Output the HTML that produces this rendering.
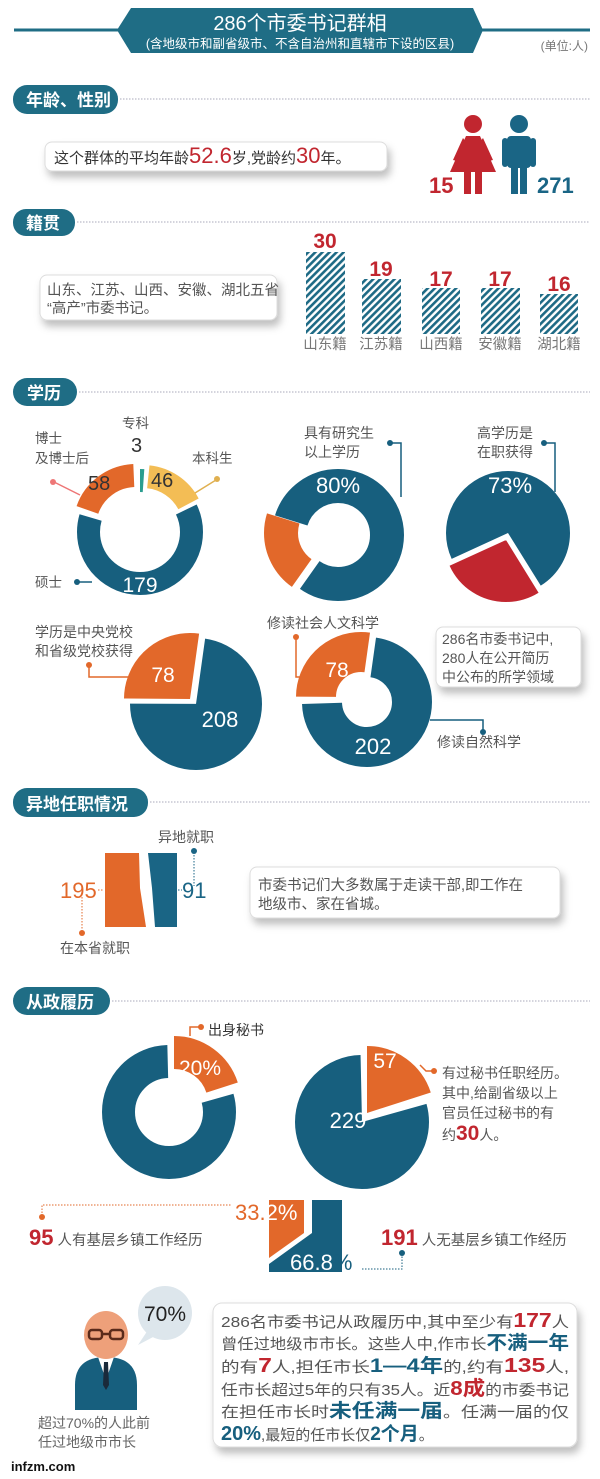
<!DOCTYPE html>
<html><head><meta charset="utf-8"><style>
html,body{margin:0;padding:0;background:#fff}
svg{display:block}
text{font-family:"Liberation Sans","Noto Sans CJK SC",sans-serif}
</style></head><body>
<svg width="600" height="1479" viewBox="0 0 600 1479" xmlns="http://www.w3.org/2000/svg">
<defs>
<pattern id="h" width="5" height="5" patternUnits="userSpaceOnUse" patternTransform="rotate(45)">
<rect width="5" height="5" fill="#fff"/><rect width="2.6" height="5" fill="#1e6a85"/></pattern>
<filter id="sh" x="-10%" y="-30%" width="120%" height="180%"><feDropShadow dx="3" dy="6" stdDeviation="4" flood-color="#000" flood-opacity="0.25"/></filter>
</defs>
<!-- header -->
<line x1="14" y1="30" x2="590" y2="30" stroke="#1f6d85" stroke-width="3"/>
<path d="M117 30 L131 8 L473 8 L483 30 L473 53 L131 53 Z" fill="#1f6d85"/>
<text x="300" y="30" fill="#fff" font-size="20" text-anchor="middle">286个市委书记群相</text>
<text x="300" y="48" fill="#fff" font-size="12.5" text-anchor="middle" font-family="Liberation Serif,Noto Serif CJK SC,serif">(含地级市和副省级市、不含自治州和直辖市下设的区县)</text>
<text x="588" y="50" fill="#777" font-size="12" text-anchor="end">(单位:人)</text>

<!-- section pills -->
<g fill="#1f6d85">
<rect x="13" y="85" width="105" height="29" rx="14"/>
<rect x="13" y="209" width="62" height="27" rx="13"/>
<rect x="13" y="378" width="64" height="28" rx="14"/>
<rect x="13" y="788" width="135" height="29" rx="14"/>
<rect x="13" y="987" width="97" height="28" rx="14"/>
</g>
<g stroke="#aab" stroke-width="1" stroke-dasharray="1.5 1.5">
<line x1="120" y1="99" x2="590" y2="99"/><line x1="77" y1="222" x2="590" y2="222"/>
<line x1="79" y1="392" x2="590" y2="392"/><line x1="150" y1="802" x2="590" y2="802"/>
<line x1="112" y1="1001" x2="590" y2="1001"/></g>
<g fill="#fff" font-size="17" font-weight="bold">
<text x="26" y="106">年龄、性别</text><text x="26" y="229">籍贯</text><text x="27" y="399">学历</text>
<text x="26" y="810">异地任职情况</text><text x="26" y="1008">从政履历</text></g>

<!-- age box -->
<rect x="45" y="142" width="342" height="29" rx="7" fill="#fff" stroke="#ddd" filter="url(#sh)"/>
<text x="54" y="163" font-size="15" fill="#333">这个群体的平均年龄<tspan fill="#c1262f" font-size="22">52.6</tspan>岁,党龄约<tspan fill="#c1262f" font-size="22">30</tspan>年。</text>
<!-- woman -->
<g fill="#c1262f"><circle cx="473" cy="124" r="9"/><path d="M466 136 L480 136 L496 172 L450 172 Z"/><rect x="464" y="170" width="7" height="24"/><rect x="475" y="170" width="7" height="24"/><path d="M463 138 l-10 22 4 1 9-19Z M483 138 l10 22 -4 1 -9-19Z"/></g>
<g fill="#1a6585"><circle cx="519" cy="124" r="9"/><rect x="507" y="136" width="24" height="32" rx="4"/><rect x="511" y="160" width="7" height="34"/><rect x="520" y="160" width="7" height="34"/><rect x="502" y="138" width="6" height="29" rx="3"/><rect x="530" y="138" width="6" height="29" rx="3"/></g>
<text x="429" y="193" font-size="22" font-weight="bold" fill="#c1262f">15</text>
<text x="537" y="193" font-size="22" font-weight="bold" fill="#1a6585">271</text>

<!-- jiguan -->
<rect x="40" y="275" width="237" height="45" rx="7" fill="#fff" stroke="#ddd" filter="url(#sh)"/>
<text x="47" y="295" font-size="14.5" fill="#555">山东、江苏、山西、安徽、湖北五省</text>
<text x="47" y="313" font-size="14.5" fill="#555">“高产”市委书记。</text>
<g fill="url(#h)"><rect x="306" y="252" width="39" height="82"/><rect x="362" y="279" width="39" height="55"/><rect x="422" y="288" width="38" height="46"/><rect x="481" y="288" width="39" height="46"/><rect x="540" y="294" width="38" height="40"/></g>
<g font-size="21" font-weight="bold" fill="#c1262f" text-anchor="middle">
<text x="325" y="248">30</text><text x="381" y="276">19</text><text x="441" y="286">17</text><text x="500" y="286">17</text><text x="559" y="291">16</text></g>
<g font-size="14.5" fill="#777" text-anchor="middle">
<text x="325" y="349">山东籍</text><text x="381" y="349">江苏籍</text><text x="441" y="349">山西籍</text><text x="500" y="349">安徽籍</text><text x="559" y="349">湖北籍</text></g>

<!-- donut1 -->
<g fill="none" stroke-width="23">
<circle cx="140" cy="532" r="51.5" stroke="#2a9d8f" stroke-dasharray="3.6 320" transform="rotate(-90 140 532)"/>
<circle cx="140" cy="532" r="51.5" stroke="#f3bd55" stroke-dasharray="50.3 273.3" stroke-dashoffset="-5.4" transform="translate(3,-4) rotate(-90 140 532)"/>
<circle cx="140" cy="532" r="51.5" stroke="#175f7e" stroke-dasharray="199.6 124" stroke-dashoffset="-57.5" transform="rotate(-90 140 532)"/>
<circle cx="140" cy="532" r="51.5" stroke="#e2682a" stroke-dasharray="61.1 262.5" stroke-dashoffset="-259.8" transform="translate(-4,-5) rotate(-90 140 532)"/>
</g>
<g font-size="13.5" fill="#555"><text x="122" y="428">专科</text><text x="35" y="443">博士</text><text x="35" y="463">及博士后</text><text x="192" y="463">本科生</text><text x="35" y="587">硕士</text></g>
<text x="131" y="452" font-size="20" fill="#333">3</text>
<text x="88" y="490" font-size="20" fill="#333">58</text><text x="151" y="487" font-size="20" fill="#333">46</text>
<text x="140" y="592" font-size="21" fill="#fff" text-anchor="middle">179</text>
<g stroke-width="1.5" fill="none"><path d="M54 482 L80 495" stroke="#e77"/><path d="M216 480 L195 493" stroke="#e0b050"/><path d="M77 582 L92 582" stroke="#175f7e"/></g>
<circle cx="53" cy="482" r="3" fill="#e77"/><circle cx="217" cy="479" r="3" fill="#e0b050"/><circle cx="77" cy="582" r="3" fill="#175f7e"/>

<!-- donut2 -->
<g fill="none" stroke-width="34">
<circle cx="338" cy="535" r="49" stroke="#e2682a" stroke-dasharray="61.6 246.3" stroke-dashoffset="-183.8" transform="translate(-8,-2) rotate(-90 338 535)"/>
<circle cx="338" cy="535" r="49" stroke="#175f7e" stroke-dasharray="246.3 61.6" stroke-dashoffset="-245.4" transform="rotate(-90 338 535)"/>
</g>
<text x="338" y="493" font-size="22" fill="#fff" text-anchor="middle">80%</text>
<text x="304" y="438" font-size="14" fill="#555">具有研究生</text><text x="304" y="457" font-size="14" fill="#555">以上学历</text>
<path d="M390 443 L401 443 L401 497" stroke="#175f7e" stroke-width="1.5" fill="none"/><circle cx="390" cy="443" r="3" fill="#175f7e"/>

<!-- pie3 -->
<g fill="none" stroke-width="62">
<circle cx="508" cy="533" r="31" stroke="#175f7e" stroke-dasharray="142.3 52.5" stroke-dashoffset="-132.5" transform="rotate(-90 508 533)"/>
<circle cx="508" cy="533" r="31" stroke="#c1262f" stroke-dasharray="52.5 142.3" stroke-dashoffset="-80.1" transform="translate(-2,7) rotate(-90 508 533)"/>
</g>
<text x="510" y="493" font-size="22" fill="#fff" text-anchor="middle">73%</text>
<text x="477" y="438" font-size="14" fill="#555">高学历是</text><text x="477" y="457" font-size="14" fill="#555">在职获得</text>
<path d="M544 443 L555 443 L555 492" stroke="#175f7e" stroke-width="1.5" fill="none"/><circle cx="544" cy="443" r="3" fill="#175f7e"/>

<!-- pie4 -->
<g fill="none" stroke-width="66">
<circle cx="196" cy="704" r="33" stroke="#175f7e" stroke-dasharray="150.9 56.4" stroke-dashoffset="-4.6" transform="rotate(-90 196 704)"/>
<circle cx="196" cy="704" r="33" stroke="#e2682a" stroke-dasharray="56.4 150.9" stroke-dashoffset="-155.5" transform="translate(-6,-5) rotate(-90 196 704)"/>
</g>
<text x="163" y="682" font-size="21" fill="#fff" text-anchor="middle">78</text>
<text x="220" y="727" font-size="22" fill="#fff" text-anchor="middle">208</text>
<text x="35" y="637" font-size="14" fill="#555">学历是中央党校</text><text x="35" y="656" font-size="14" fill="#555">和省级党校获得</text>
<path d="M89 665 L89 677 L128 677" stroke="#e2682a" stroke-width="1.5" fill="none"/><circle cx="89" cy="665" r="3" fill="#e2682a"/>

<!-- donut5 -->
<g fill="none" stroke-width="40">
<circle cx="367" cy="702" r="45" stroke="#175f7e" stroke-dasharray="204 78.7" stroke-dashoffset="-6.3" transform="rotate(-90 367 702)"/>
<circle cx="367" cy="702" r="45" stroke="#e2682a" stroke-dasharray="77 205.7" stroke-dashoffset="-212" transform="translate(-6,-5) rotate(-90 367 702)"/>
</g>
<text x="337" y="677" font-size="21" fill="#fff" text-anchor="middle">78</text>
<text x="373" y="754" font-size="22" fill="#fff" text-anchor="middle">202</text>
<text x="267" y="628" font-size="14" fill="#555">修读社会人文科学</text>
<text x="437" y="747" font-size="14" fill="#555">修读自然科学</text>
<path d="M296 637 L296 677 L310 677" stroke="#e2682a" stroke-width="1.5" fill="none"/><circle cx="296" cy="637" r="3" fill="#e2682a"/>
<path d="M430 720 L483 720 L483 732" stroke="#175f7e" stroke-width="1.5" fill="none"/><circle cx="483" cy="732" r="3" fill="#175f7e"/>
<rect x="436" y="627" width="145" height="60" rx="7" fill="#fff" stroke="#ddd" filter="url(#sh)"/>
<g font-size="14" fill="#555"><text x="442" y="644">286名市委书记中,</text><text x="442" y="663">280人在公开简历</text><text x="442" y="682">中公布的所学领域</text></g>

<!-- yidi -->
<path d="M105 853 L139 853 L140 888 L146 927 L105 927 Z" fill="#e2682a"/>
<path d="M148 853 L177 853 L177 927 L155 927 L152 888 Z" fill="#1a6585"/>
<text x="60" y="898" font-size="22" fill="#e2682a">195</text>
<text x="182" y="898" font-size="22" fill="#1a6585">91</text>
<text x="158" y="842" font-size="14" fill="#555">异地就职</text>
<text x="60" y="953" font-size="14" fill="#555">在本省就职</text>
<g stroke-width="1" stroke-dasharray="1.5 1.5" fill="none"><path d="M194 852 L194 886 M178 890 L182 890" stroke="#1a6585"/><path d="M82 897 L82 932 M98 890 L104 890" stroke="#e2682a"/></g>
<circle cx="194" cy="851" r="3" fill="#1a6585"/><circle cx="82" cy="933" r="3" fill="#e2682a"/>
<rect x="250" y="867" width="310" height="51" rx="7" fill="#fff" stroke="#ddd" filter="url(#sh)"/>
<text x="258" y="890" font-size="14.5" fill="#555">市委书记们大多数属于走读干部,即工作在</text>
<text x="258" y="909" font-size="14.5" fill="#555">地级市、家在省城。</text>

<!-- donut6 -->
<g fill="none" stroke-width="33">
<circle cx="169" cy="1112" r="50.5" stroke="#175f7e" stroke-dasharray="250.3 67" stroke-dashoffset="-65.2" transform="rotate(-90 169 1112)"/>
<circle cx="169" cy="1112" r="50.5" stroke="#e2682a" stroke-dasharray="63.5 253.8" transform="translate(5,-9) rotate(-90 169 1112)"/>
</g>
<text x="200" y="1075" font-size="21" fill="#fff" text-anchor="middle">20%</text>
<text x="208" y="1035" font-size="14" fill="#333">出身秘书</text>
<path d="M200 1027 L190 1027 L190 1036" stroke="#e2682a" stroke-width="1.5" fill="none"/><circle cx="201" cy="1027" r="3" fill="#e2682a"/>

<!-- pie7 -->
<g fill="none" stroke-width="67">
<circle cx="362" cy="1122" r="33.5" stroke="#175f7e" stroke-dasharray="166.1 44.4" stroke-dashoffset="-43.3" transform="rotate(-90 362 1122)"/>
<circle cx="362" cy="1122" r="33.5" stroke="#e2682a" stroke-dasharray="42.1 168.4" transform="translate(5,-9) rotate(-90 362 1122)"/>
</g>
<text x="385" y="1068" font-size="21" fill="#fff" text-anchor="middle">57</text>
<text x="348" y="1128" font-size="22" fill="#fff" text-anchor="middle">229</text>
<path d="M420 1065 L426 1071 L433 1071" stroke="#e2682a" stroke-width="1.5" fill="none"/><circle cx="434" cy="1071" r="3" fill="#e2682a"/>
<g font-size="14" fill="#555"><text x="442" y="1078">有过秘书任职经历。</text><text x="442" y="1098">其中,给副省级以上</text><text x="442" y="1118">官员任过秘书的有</text><text x="442" y="1140">约<tspan fill="#c1262f" font-size="21" font-weight="bold">30</tspan>人。</text></g>

<!-- jiceng -->
<path d="M42 1216 L42 1205 L231 1205" stroke="#e2682a" stroke-width="1" stroke-dasharray="1.5 1.5" fill="none"/><circle cx="42" cy="1217" r="3" fill="#e2682a"/>
<text x="29" y="1245" font-size="14.5" fill="#555"><tspan fill="#c1262f" font-size="22" font-weight="bold">95</tspan> 人有基层乡镇工作经历</text>
<path d="M269 1200 L304 1200 L304 1233 L269 1258 Z" fill="#e2682a"/>
<path d="M312 1200 L342 1200 L342 1272 L269 1272 L269 1264 L312 1233 Z" fill="#175f7e"/>
<text x="235" y="1220" font-size="22" fill="#e2682a">33.<tspan fill="#fff">2%</tspan></text>
<text x="290" y="1270" font-size="22" fill="#fff">66.8<tspan fill="#175f7e">%</tspan></text>
<path d="M362 1269 L402 1269 L402 1256" stroke="#175f7e" stroke-width="1" stroke-dasharray="1.5 1.5" fill="none"/><circle cx="402" cy="1253" r="3" fill="#175f7e"/>
<text x="381" y="1245" font-size="14.5" fill="#555"><tspan fill="#c1262f" font-size="22" font-weight="bold">191</tspan> 人无基层乡镇工作经历</text>

<!-- person -->
<circle cx="165" cy="1313" r="27" fill="#dde6ec"/>
<path d="M148 1330 L138 1345 L155 1336Z" fill="#dde6ec"/>
<text x="165" y="1321" font-size="21" fill="#222" text-anchor="middle">70%</text>
<path d="M75 1410 L75 1385 Q75 1357 106 1357 Q137 1357 137 1385 L137 1410 Z" fill="#175f7e"/>
<path d="M98 1357 L106 1380 L114 1357Z" fill="#fff"/><path d="M104 1362 L108 1362 L109 1385 L106 1390 L103 1385Z" fill="#1a2a3a"/>
<ellipse cx="106" cy="1335" rx="22" ry="24" fill="#eea07a"/>
<g fill="none" stroke="#5a2a1a" stroke-width="2.5"><rect x="89" y="1330" width="13" height="9" rx="3"/><rect x="110" y="1330" width="13" height="9" rx="3"/><line x1="102" y1="1334" x2="110" y2="1334"/></g>
<text x="38" y="1428" font-size="14" fill="#666">超过70%的人此前</text>
<text x="38" y="1447" font-size="14" fill="#666">任过地级市市长</text>
<text x="11" y="1471" font-size="13" font-weight="bold" fill="#111">infzm.com</text>

<rect x="213" y="1303" width="364" height="144" rx="9" fill="#fff" stroke="#ddd" filter="url(#sh)"/>
<g font-size="15" fill="#555">
<text x="221" y="1327" textLength="348" lengthAdjust="spacingAndGlyphs">286名市委书记从政履历中,其中至少有<tspan fill="#c1262f" font-size="20" font-weight="bold">177</tspan>人</text>
<text x="221" y="1349" textLength="348" lengthAdjust="spacingAndGlyphs">曾任过地级市市长。这些人中,作市长<tspan fill="#175f7e" font-size="19" font-weight="bold">不满一年</tspan></text>
<text x="221" y="1372" textLength="348" lengthAdjust="spacingAndGlyphs">的有<tspan fill="#c1262f" font-size="20" font-weight="bold">7</tspan>人,担任市长<tspan fill="#175f7e" font-size="19" font-weight="bold">1—4年</tspan>的,约有<tspan fill="#c1262f" font-size="20" font-weight="bold">135</tspan>人,</text>
<text x="221" y="1395" textLength="348" lengthAdjust="spacingAndGlyphs">任市长超过5年的只有35人。近<tspan fill="#c1262f" font-size="20" font-weight="bold">8成</tspan>的市委书记</text>
<text x="221" y="1417" textLength="348" lengthAdjust="spacingAndGlyphs">在担任市长时<tspan fill="#175f7e" font-size="19" font-weight="bold">未任满一届</tspan>。任满一届的仅</text>
<text x="221" y="1440">
<tspan fill="#175f7e" font-size="20" font-weight="bold">20%</tspan>,最短的任市长仅<tspan fill="#175f7e" font-size="19" font-weight="bold">2个月</tspan>。</text>
</g>
</svg>
</body></html>
